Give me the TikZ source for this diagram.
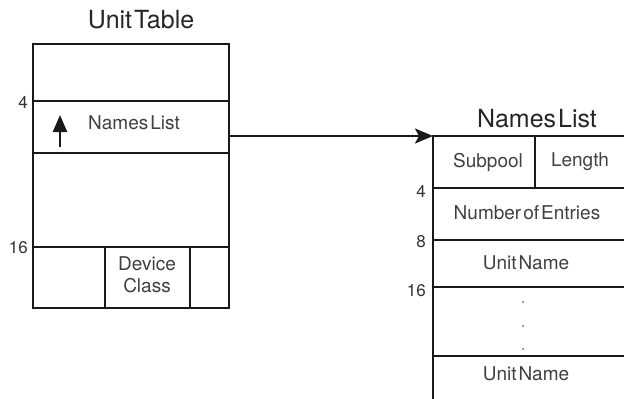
\documentclass[tikz,border=0pt]{standalone}
\usepackage{fontspec}
\setmainfont{TeX Gyre Heros}
\usetikzlibrary{arrows.meta,positioning}
\newcommand\tightwords{\spaceskip=2pt plus 1pt\relax}

\begin{document}
\begin{tikzpicture}[x=1pt,y=-1pt,>=Stealth,
   rule/.style={line width=2.4pt,draw=black!90},
   field/.style={font=\fontsize{19}{22}\selectfont,inner sep=0pt,text=black!75,align=center},
   heading/.style={font=\fontsize{25}{28}\selectfont,inner sep=0pt,text=black!85},
   offset/.style={font=\fontsize{17}{19}\selectfont,inner sep=0pt,anchor=east,text=black!80}]
  \useasboundingbox (0,0) rectangle (624,399);
  \clip (0,0) rectangle (624,399);
  % unit table
  \node[heading] (ut-title) at (141,20) {\tightwords Unit Table};
  \draw[rule] (33,44) rectangle (229,308);
  \foreach \y in {101,153,247} \draw[rule] (33,\y) -- (229,\y);
  \foreach \x in {105,190} \draw[rule] (\x,247) -- (\x,308);
  \node[offset] (ut-4) at (28,102) {4};
  \node[offset] (ut-16) at (28,248) {16};
  \node[field] (ut-names) at (134,123) {\tightwords Names List};
  \node[field] (ut-class) at (147,275) {Device\\Class};
  \draw[rule,-{Triangle[length=17pt,width=14pt]}] (60,147) -- (60,115);
  \coordinate (ut-ptr) at (229,136);
  % names list
  \node[heading] (nl-title) at (537,119) {\tightwords Names List};
  \coordinate (nl-top) at (433,136);
  \draw[rule] (640,136) -- (nl-top) -- (433,410);
  \foreach \y in {188,240,287,356} \draw[rule] (433,\y) -- (640,\y);
  \draw[rule] (535,136) -- (535,188);
  \node[offset] (nl-4) at (426,191) {4};
  \node[offset] (nl-8) at (426,242) {8};
  \node[offset] (nl-16) at (426,291) {16};
  \node[field] (nl-pool) at (488,162) {Subpool};
  \node[field] (nl-len) at (580,162) {Length};
  \node[field] (nl-count) at (527,213) {\tightwords Number of Entries};
  \node[field] (nl-first) at (526,263) {\tightwords Unit Name};
  \foreach \y in {302,326,349} \fill[black!60] (523,\y) circle (1pt);
  \node[field] (nl-last) at (526,374) {\tightwords Unit Name};
  % pointer
  \draw[rule,-{Stealth[length=18pt,width=15pt,inset=4pt]}] (ut-ptr) -- (nl-top);
\end{tikzpicture}
\end{document}
